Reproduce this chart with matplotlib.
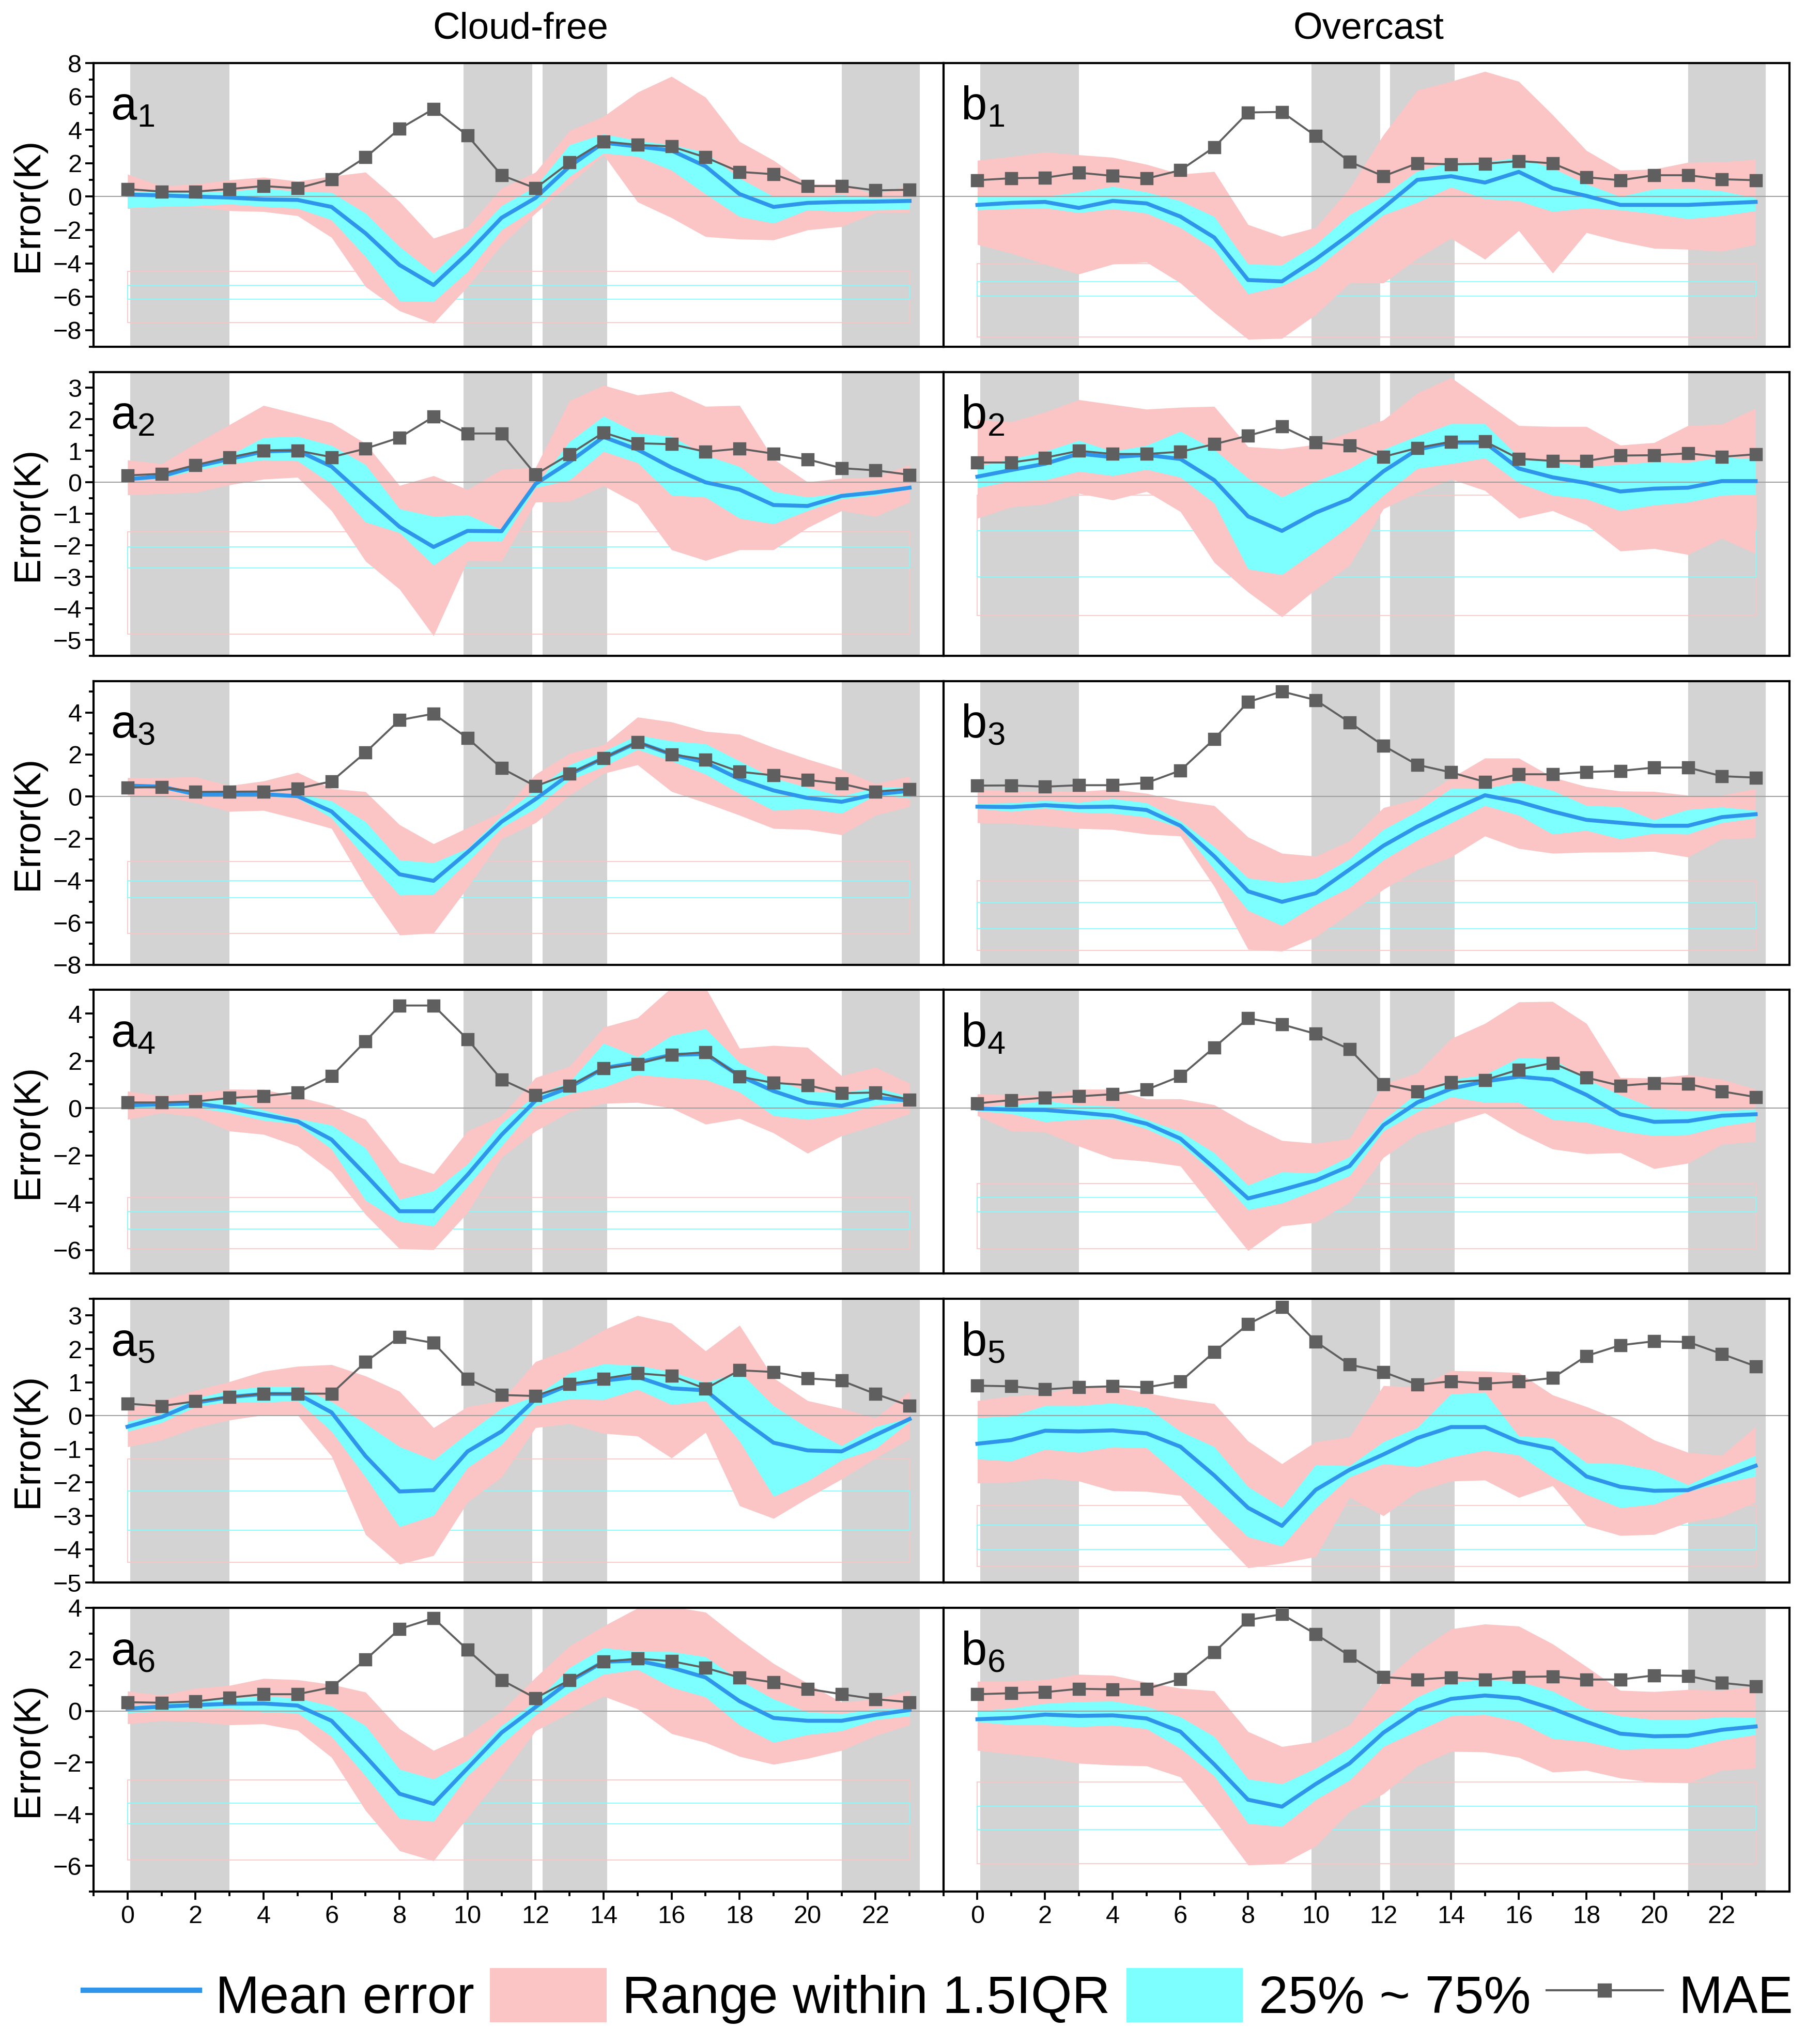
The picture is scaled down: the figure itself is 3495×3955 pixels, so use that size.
import numpy as np
import matplotlib.pyplot as plt
from matplotlib.lines import Line2D
from matplotlib.patches import Patch, Rectangle
from matplotlib.ticker import MultipleLocator, FixedLocator

plt.rcParams["font.family"] = ["Liberation Sans", "DejaVu Sans"]
plt.rcParams["mathtext.default"] = "regular"

HOURS = np.arange(24)
# grey background spans (hours)
NIGHT_SPANS = [(0.08, 3.0), (9.88, 11.9), (12.2, 14.1), (21.0, 23.3)]
X_LABELS = list(range(0, 23, 2))

# ---- cloud-free ----
a1_mae = [0.45, 0.3, 0.3, 0.45, 0.63, 0.5, 1.04, 2.35, 4.06, 5.25, 3.65, 1.28, 0.5, 2.05, 3.3, 3.1, 3.0, 2.35, 1.48, 1.34, 0.63, 0.63, 0.37, 0.41]
a1_mean = [0.12, 0.07, 0.0, -0.06, -0.17, -0.2, -0.62, -2.2, -4.1, -5.3, -3.4, -1.27, -0.08, 1.81, 3.23, 3.0, 2.76, 1.81, 0.15, -0.62, -0.38, -0.32, -0.3, -0.26]
a1_q75 = [0.3, 0.28, 0.25, 0.3, 0.5, 0.3, 0.25, -1.0, -3.0, -4.6, -2.7, -0.55, 0.6, 3.1, 3.75, 3.35, 3.1, 2.65, 1.1, 0.0, 0.0, 0.1, -0.1, -0.1]
a1_q25 = [-0.68, -0.6, -0.55, -0.45, -0.6, -0.7, -1.4, -3.6, -6.25, -6.3, -4.5, -2.0, -0.7, 1.2, 2.6, 2.4, 1.58, 0.15, -1.2, -1.6, -0.8, -0.9, -0.8, -0.77]
a1_lo = [-0.73, -0.6, -0.62, -0.85, -0.9, -1.15, -2.45, -5.4, -6.85, -7.6, -5.4, -2.9, -1.0, 0.75, 2.5, -0.32, -1.27, -2.4, -2.55, -2.6, -2.0, -1.8, -0.97, -0.97]
a1_hi = [1.34, 0.63, 0.75, 1.0, 1.16, 0.92, 1.22, 1.46, -0.3, -2.5, -1.8, 0.5, 1.46, 3.95, 4.8, 6.25, 7.2, 5.95, 3.3, 2.17, 0.75, 0.75, 0.1, 0.7]

a2_mae = [0.22, 0.27, 0.55, 0.79, 1.01, 1.01, 0.8, 1.07, 1.42, 2.08, 1.55, 1.55, 0.25, 0.89, 1.58, 1.24, 1.21, 0.97, 1.07, 0.91, 0.73, 0.45, 0.38, 0.24]
a2_mean = [0.1, 0.19, 0.5, 0.74, 0.98, 1.01, 0.5, -0.47, -1.41, -2.05, -1.54, -1.55, -0.05, 0.65, 1.44, 1.04, 0.47, 0.0, -0.23, -0.72, -0.75, -0.43, -0.32, -0.17]
a2_q75 = [0.16, 0.25, 0.56, 0.86, 1.42, 1.46, 1.17, 0.56, -0.84, -1.08, -1.03, -1.5, -0.1, 1.29, 2.1, 1.56, 1.46, 0.86, 0.5, -0.29, -0.47, -0.35, -0.23, -0.11]
a2_q25 = [0.04, 0.13, 0.38, 0.59, 0.71, 0.68, -0.05, -1.26, -1.6, -2.63, -1.87, -1.87, -0.17, 0.07, 0.98, 0.62, -0.41, -0.47, -1.14, -1.32, -0.9, -0.53, -0.41, -0.22]
a2_lo = [-0.4, -0.36, -0.32, -0.08, 0.1, 0.16, -0.9, -2.5, -3.39, -4.87, -2.48, -2.5, -0.63, -0.6, -0.11, -0.69, -2.14, -2.48, -2.14, -2.14, -1.44, -0.9, -1.08, -0.63]
a2_hi = [0.71, 0.59, 1.23, 1.83, 2.44, 2.17, 1.89, 1.23, -0.1, 0.21, -0.23, 0.41, 0.47, 2.59, 3.08, 2.77, 2.89, 2.41, 2.44, 0.74, 0.01, 0.13, 0.16, 0.56]

a3_mae = [0.43, 0.45, 0.22, 0.23, 0.24, 0.38, 0.72, 2.1, 3.64, 3.94, 2.78, 1.35, 0.49, 1.1, 1.83, 2.6, 2.01, 1.76, 1.18, 1.01, 0.79, 0.61, 0.24, 0.36]
a3_mean = [0.52, 0.47, 0.11, 0.11, 0.11, 0.02, -0.71, -2.2, -3.7, -4.01, -2.65, -1.2, -0.12, 1.06, 1.83, 2.58, 2.01, 1.62, 0.83, 0.29, -0.07, -0.25, 0.11, 0.27]
a3_q75 = [0.56, 0.52, 0.2, 0.2, 0.2, 0.15, -0.21, -1.2, -3.02, -3.15, -2.47, -0.93, 0.34, 1.51, 2.15, 2.92, 2.64, 2.51, 1.69, 0.88, 0.43, 0.02, 0.43, 0.47]
a3_q25 = [0.43, 0.38, 0.02, 0.02, 0.02, -0.07, -1.02, -2.93, -4.69, -4.65, -3.11, -1.48, -0.57, 0.79, 1.42, 2.24, 1.69, 1.06, 0.15, -0.66, -0.57, -0.8, 0.06, -0.07]
a3_lo = [0.06, 0.02, -0.3, -0.71, -0.66, -1.07, -1.52, -4.28, -6.59, -6.5, -4.33, -2.02, -1.25, 0.06, 1.1, 1.51, 0.24, -0.3, -0.89, -1.52, -1.57, -1.82, -0.89, -0.48]
a3_hi = [0.9, 0.9, 0.94, 0.52, 0.74, 1.15, 0.38, 0.23, -1.34, -2.25, -1.48, -0.75, 1.06, 2.06, 2.46, 3.78, 3.55, 3.1, 2.96, 2.33, 1.78, 1.29, 0.61, 0.97]

a4_mae = [0.24, 0.24, 0.28, 0.43, 0.51, 0.66, 1.35, 2.83, 4.34, 4.34, 2.91, 1.21, 0.55, 0.95, 1.69, 1.87, 2.25, 2.37, 1.33, 1.07, 0.97, 0.63, 0.66, 0.36]
a4_mean = [0.12, 0.16, 0.2, 0.0, -0.28, -0.56, -1.33, -2.82, -4.36, -4.36, -2.82, -1.13, 0.32, 0.88, 1.69, 1.93, 2.25, 2.29, 1.37, 0.72, 0.24, 0.1, 0.44, 0.32]
a4_q75 = [0.16, 0.28, 0.34, 0.4, -0.08, -0.45, -0.72, -1.69, -3.86, -3.5, -2.37, -0.64, 0.56, 1.1, 2.74, 2.17, 3.07, 3.36, 1.93, 1.21, 0.72, 0.64, 0.88, 0.48]
a4_q25 = [0.0, 0.06, 0.02, -0.2, -0.52, -0.68, -1.73, -3.9, -4.79, -4.99, -3.3, -1.61, 0.08, 0.6, 0.88, 1.41, 1.29, 1.21, 0.68, -0.32, -0.48, -0.28, 0.12, 0.28]
a4_lo = [-0.48, -0.2, -0.36, -0.97, -1.11, -1.61, -2.7, -4.5, -5.95, -5.99, -4.42, -2.09, -0.97, -0.16, 0.2, 0.24, 0.0, -0.68, -0.44, -1.05, -1.91, -1.17, -0.72, -0.24]
a4_hi = [0.72, 0.52, 0.66, 0.8, 0.79, 0.48, 0.12, -0.48, -2.29, -2.78, -0.97, -0.32, 1.29, 1.77, 3.42, 3.82, 5.1, 5.1, 2.53, 2.65, 2.57, 1.37, 1.73, 1.05]

a5_mae = [0.36, 0.29, 0.43, 0.56, 0.66, 0.66, 0.66, 1.61, 2.36, 2.18, 1.11, 0.62, 0.59, 0.95, 1.11, 1.27, 1.19, 0.81, 1.36, 1.31, 1.12, 1.05, 0.65, 0.3]
a5_mean = [-0.33, -0.04, 0.39, 0.56, 0.65, 0.65, 0.1, -1.21, -2.27, -2.23, -1.07, -0.47, 0.5, 0.93, 1.05, 1.16, 0.82, 0.76, -0.07, -0.81, -1.04, -1.07, -0.58, -0.1]
a5_q75 = [-0.18, 0.07, 0.52, 0.76, 0.88, 0.88, 0.42, -0.24, -0.93, -1.33, -0.53, 0.22, 0.59, 1.28, 1.55, 1.51, 1.31, 0.99, 1.31, 0.3, -0.36, -0.9, -0.33, -0.07]
a5_q25 = [-0.47, -0.21, 0.27, 0.42, 0.4, 0.45, -0.47, -1.84, -3.33, -2.99, -1.56, -0.87, 0.3, 0.5, 0.48, 0.79, 0.33, 0.45, -0.76, -2.42, -1.96, -1.33, -0.99, -0.18]
a5_lo = [-0.93, -0.73, -0.36, -0.13, 0.02, 0.02, -1.21, -3.56, -4.45, -4.19, -2.59, -1.84, -0.36, -0.24, -0.53, -0.61, -1.27, -0.5, -2.7, -3.08, -2.47, -1.9, -1.27, -0.7]
a5_hi = [0.22, 0.45, 0.76, 1.02, 1.33, 1.48, 1.53, 1.19, 0.73, -0.36, 0.27, 0.45, 1.62, 1.99, 2.57, 3.0, 2.77, 1.94, 2.71, 1.13, 0.45, 0.22, -0.07, 0.73]

a6_mae = [0.34, 0.32, 0.37, 0.52, 0.65, 0.65, 0.92, 1.99, 3.18, 3.6, 2.37, 1.2, 0.5, 1.2, 1.91, 2.03, 1.93, 1.67, 1.3, 1.11, 0.86, 0.65, 0.46, 0.34]
a6_mean = [0.09, 0.17, 0.23, 0.28, 0.29, 0.21, -0.38, -1.76, -3.21, -3.6, -2.22, -0.84, 0.15, 1.15, 1.91, 1.95, 1.68, 1.3, 0.38, -0.27, -0.38, -0.38, -0.15, 0.04]
a6_q75 = [0.19, 0.27, 0.4, 0.5, 0.57, 0.5, 0.19, -0.57, -2.26, -2.64, -1.91, -0.57, 0.38, 1.68, 2.45, 2.31, 2.3, 2.1, 1.19, 0.46, -0.04, -0.11, 0.09, 0.09]
a6_q25 = [-0.08, 0.0, 0.08, 0.11, -0.04, -0.08, -0.99, -2.52, -4.17, -4.28, -2.52, -1.3, -0.15, 0.73, 1.42, 1.61, 0.92, 0.54, -0.54, -1.22, -0.92, -0.77, -0.34, -0.19]
a6_lo = [-0.5, -0.38, -0.42, -0.54, -0.5, -0.75, -1.8, -3.86, -5.42, -5.81, -4.13, -2.52, -0.77, -0.08, 0.57, 0.08, -0.88, -1.22, -1.76, -2.07, -1.84, -1.53, -0.96, -0.54]
a6_hi = [0.77, 0.61, 0.88, 0.99, 1.26, 1.21, 1.03, 0.73, -0.69, -1.53, -0.92, 0.0, 1.3, 2.52, 3.29, 3.99, 4.05, 3.83, 2.79, 1.84, 1.07, 0.34, 0.46, 0.8]

# ---- overcast ----
b1_mae = [0.98, 1.1, 1.13, 1.43, 1.24, 1.08, 1.58, 2.96, 5.04, 5.07, 3.63, 2.09, 1.22, 1.99, 1.93, 1.97, 2.13, 1.99, 1.16, 0.98, 1.28, 1.28, 1.04, 0.98]
b1_mean = [-0.5, -0.38, -0.32, -0.68, -0.26, -0.41, -1.2, -2.45, -5.0, -5.08, -3.75, -2.27, -0.67, 1.0, 1.22, 0.84, 1.48, 0.5, 0.04, -0.5, -0.5, -0.5, -0.41, -0.32]
b1_q75 = [0.0, 0.04, 0.0, 0.27, 0.6, 0.27, -0.26, -1.2, -4.05, -4.1, -2.87, -1.09, 0.05, 1.52, 2.05, 2.05, 2.35, 1.7, 0.75, 0.0, 0.45, 0.5, 0.33, -0.08]
b1_q25 = [-0.8, -0.73, -0.68, -0.97, -0.73, -1.0, -1.86, -3.16, -5.83, -5.36, -4.35, -2.69, -1.1, -0.35, 0.57, -0.14, -0.26, -0.9, -0.68, -0.8, -1.03, -1.33, -1.15, -0.85]
b1_lo = [-2.87, -3.4, -4.05, -4.64, -4.05, -3.93, -5.18, -6.95, -8.55, -8.5, -7.07, -5.18, -5.18, -3.7, -2.5, -3.76, -2.04, -4.59, -2.16, -2.69, -3.1, -3.16, -3.28, -2.87]
b1_hi = [2.17, 2.4, 2.67, 2.5, 2.35, 1.93, 1.34, 1.5, -1.68, -2.39, -1.86, 0.5, 3.7, 6.37, 6.9, 7.5, 6.9, 4.9, 2.76, 1.58, 1.64, 2.05, 2.07, 2.23]

b2_mae = [0.63, 0.63, 0.78, 1.0, 0.9, 0.9, 0.97, 1.21, 1.48, 1.77, 1.26, 1.17, 0.81, 1.09, 1.29, 1.3, 0.75, 0.68, 0.68, 0.85, 0.86, 0.92, 0.81, 0.89]
b2_mean = [0.18, 0.39, 0.59, 0.91, 0.8, 0.87, 0.74, 0.07, -1.08, -1.54, -0.96, -0.53, 0.35, 1.04, 1.26, 1.26, 0.44, 0.16, -0.02, -0.29, -0.2, -0.17, 0.04, 0.04]
b2_q75 = [0.5, 0.74, 0.98, 1.33, 0.98, 1.17, 1.62, 1.04, 0.13, -0.47, 0.04, 0.44, 1.04, 1.47, 1.86, 1.86, 0.8, 0.65, 0.5, 0.56, 0.65, 0.63, 0.8, 0.74]
b2_q25 = [-0.17, 0.04, 0.07, 0.35, 0.21, 0.41, 0.16, -0.66, -2.75, -2.93, -2.17, -1.38, -0.41, 0.44, 0.59, 0.77, -0.02, -0.41, -0.53, -0.9, -0.72, -0.63, -0.41, -0.38]
b2_lo = [-1.14, -0.78, -0.69, -0.35, -0.56, -0.29, -0.93, -2.54, -3.48, -4.27, -3.39, -2.63, -0.84, -0.32, 0.1, -0.26, -1.14, -0.9, -1.35, -2.18, -2.1, -2.29, -1.78, -2.26]
b2_hi = [1.98, 1.92, 2.23, 2.62, 2.47, 2.32, 2.38, 2.41, 1.13, 1.06, 1.2, 1.59, 1.98, 2.83, 3.32, 2.56, 1.8, 1.77, 1.77, 1.18, 1.26, 1.8, 1.84, 2.35]

b3_mae = [0.52, 0.53, 0.47, 0.54, 0.54, 0.65, 1.24, 2.74, 4.5, 5.0, 4.59, 3.53, 2.42, 1.51, 1.15, 0.7, 1.06, 1.06, 1.17, 1.22, 1.38, 1.38, 0.97, 0.9]
b3_mean = [-0.48, -0.5, -0.41, -0.5, -0.48, -0.64, -1.39, -2.84, -4.51, -5.01, -4.6, -3.47, -2.34, -1.43, -0.66, 0.06, -0.25, -0.71, -1.11, -1.25, -1.39, -1.39, -0.98, -0.84]
b3_q75 = [-0.34, -0.3, -0.19, -0.28, -0.1, -0.3, -1.16, -2.38, -3.88, -4.1, -3.88, -2.97, -1.57, -0.71, 0.38, 0.38, 0.7, 0.29, -0.43, -0.48, -1.11, -0.62, -0.5, -0.66]
b3_q25 = [-0.57, -0.71, -0.55, -0.75, -0.8, -0.98, -1.48, -3.47, -5.42, -6.14, -5.14, -4.33, -3.02, -2.07, -1.25, -0.43, -0.89, -1.79, -1.61, -2.02, -1.75, -1.79, -1.25, -1.02]
b3_lo = [-1.25, -1.28, -1.39, -1.52, -1.57, -1.79, -1.88, -4.28, -7.27, -7.36, -6.68, -5.55, -4.42, -3.47, -2.88, -1.88, -2.47, -2.7, -2.65, -2.64, -2.61, -2.88, -2.02, -1.97]
b3_hi = [0.34, 0.26, 0.26, 0.24, 0.35, 0.15, -0.21, -0.43, -1.93, -2.7, -2.84, -2.11, -0.53, -0.12, 0.88, 1.83, 1.83, 0.92, 0.47, 0.26, 0.24, 0.06, 0.06, 0.38]

b4_mae = [0.2, 0.34, 0.44, 0.5, 0.59, 0.78, 1.35, 2.57, 3.8, 3.54, 3.14, 2.49, 1.01, 0.7, 1.09, 1.19, 1.63, 1.91, 1.29, 0.95, 1.05, 1.02, 0.71, 0.47]
b4_mean = [-0.02, -0.06, -0.08, -0.19, -0.32, -0.66, -1.29, -2.53, -3.82, -3.46, -3.06, -2.45, -0.72, 0.24, 0.82, 1.13, 1.33, 1.21, 0.56, -0.26, -0.58, -0.55, -0.32, -0.26]
b4_q75 = [0.06, 0.12, 0.32, 0.12, 0.08, -0.48, -1.0, -1.89, -3.26, -2.7, -2.74, -2.05, -0.5, 0.64, 1.21, 1.41, 2.13, 2.09, 1.21, 0.56, 0.0, -0.12, -0.12, -0.04]
b4_q25 = [-0.12, -0.24, -0.58, -0.48, -0.44, -0.88, -1.53, -2.74, -4.3, -4.02, -3.46, -2.86, -0.97, -0.16, 0.48, 0.24, 0.24, -0.48, -0.6, -0.97, -1.17, -1.13, -0.76, -0.56]
b4_lo = [-0.32, -0.97, -1.01, -1.61, -2.13, -2.25, -2.45, -4.26, -6.03, -4.99, -4.83, -3.98, -2.09, -1.09, -0.64, -0.2, -1.05, -1.73, -1.93, -1.89, -2.56, -2.33, -1.53, -1.41]
b4_hi = [0.6, 0.56, 0.55, 0.8, 0.8, 0.39, 0.39, 0.14, -0.68, -1.37, -1.49, -1.29, 1.01, 1.49, 2.94, 3.58, 4.49, 4.51, 3.58, 1.29, 1.27, 1.41, 1.22, 0.8]

b5_mae = [0.9, 0.88, 0.79, 0.85, 0.88, 0.85, 1.02, 1.91, 2.74, 3.26, 2.22, 1.53, 1.31, 0.93, 1.03, 0.96, 1.02, 1.13, 1.79, 2.11, 2.23, 2.21, 1.85, 1.48]
b5_mean = [-0.84, -0.73, -0.45, -0.47, -0.44, -0.53, -0.93, -1.79, -2.76, -3.3, -2.22, -1.62, -1.16, -0.67, -0.34, -0.34, -0.78, -0.99, -1.82, -2.13, -2.25, -2.23, -1.87, -1.5]
b5_q75 = [-0.06, -0.01, 0.3, 0.3, 0.38, 0.25, -0.47, -0.93, -2.13, -2.76, -1.47, -1.5, -0.78, -0.36, 0.65, 0.7, -0.61, -0.67, -1.41, -1.44, -1.64, -2.07, -1.61, -1.19]
b5_q25 = [-1.3, -1.36, -1.01, -1.1, -0.94, -0.96, -1.84, -2.7, -3.63, -3.91, -2.76, -1.84, -1.44, -1.53, -1.24, -1.04, -1.18, -1.84, -2.36, -2.76, -2.65, -2.27, -2.02, -1.82]
b5_lo = [-2.02, -1.99, -1.87, -1.96, -2.25, -2.27, -2.39, -3.51, -4.56, -4.42, -4.22, -2.45, -3.0, -2.27, -1.96, -1.93, -2.45, -2.1, -3.3, -3.59, -3.56, -3.19, -3.02, -2.59]
b5_hi = [0.45, 0.59, 0.65, 0.9, 0.88, 0.68, 0.5, 0.36, -0.76, -1.44, -0.78, -0.64, 0.9, 0.85, 1.35, 1.33, 1.29, 0.62, 0.27, -0.13, -0.73, -1.1, -1.19, -0.33]

b6_mae = [0.65, 0.69, 0.73, 0.86, 0.84, 0.86, 1.24, 2.28, 3.53, 3.75, 2.98, 2.14, 1.32, 1.22, 1.3, 1.22, 1.32, 1.34, 1.22, 1.22, 1.38, 1.36, 1.09, 0.96]
b6_mean = [-0.32, -0.27, -0.14, -0.19, -0.17, -0.29, -0.8, -2.07, -3.44, -3.71, -2.83, -2.03, -0.84, 0.04, 0.47, 0.6, 0.5, 0.09, -0.42, -0.88, -0.98, -0.96, -0.73, -0.6]
b6_q75 = [0.0, 0.11, 0.29, 0.36, 0.38, 0.17, -0.23, -0.99, -2.64, -2.83, -2.22, -1.45, -0.38, 0.54, 1.11, 1.22, 1.15, 0.77, 0.11, -0.19, -0.34, -0.34, -0.23, -0.24]
b6_q25 = [-0.42, -0.54, -0.54, -0.61, -0.55, -0.69, -1.45, -2.52, -4.36, -4.48, -3.44, -2.68, -1.38, -0.77, -0.19, -0.14, -0.42, -1.07, -1.19, -1.49, -1.45, -1.45, -1.13, -0.92]
b6_lo = [-1.53, -1.67, -1.8, -2.03, -2.1, -2.13, -2.56, -4.21, -5.97, -5.93, -5.24, -3.9, -3.21, -2.14, -1.57, -1.59, -1.8, -2.37, -2.3, -2.6, -2.77, -2.79, -2.3, -2.22]
b6_hi = [1.15, 1.16, 1.22, 1.42, 1.38, 1.11, 0.88, 0.78, -0.8, -1.38, -1.19, -0.54, 1.15, 2.3, 3.18, 3.37, 3.29, 2.6, 1.72, 0.8, 0.75, 0.83, 0.8, 0.96]

# faint leftover box outlines in each panel: (pink top, pink bottom, cyan top, cyan bottom)
a_boxes = [(-4.47, -7.55, -5.3, -6.15), (-1.57, -4.81, -2.05, -2.72), (-3.08, -6.52, -4.01, -4.81),
           (-3.78, -5.94, -4.36, -5.11), (-1.3, -4.39, -2.26, -3.43), (-2.68, -5.78, -3.58, -4.38)]
b_boxes = [(-4.0, -8.4, -5.1, -5.95), (-0.4, -4.22, -1.54, -2.99), (-4.01, -7.32, -5.03, -6.3),
           (-3.18, -5.95, -3.78, -4.38), (-2.69, -4.51, -3.28, -4.01), (-2.75, -5.91, -3.69, -4.59)]

YLIMS = [(-9, 8), (-5.5, 3.5), (-8, 5.5), (-7, 5), (-5, 3.5), (-7, 4)]
YSTEPS = [2, 1, 2, 2, 1, 2]

a_panels = [
    (a1_mean, a1_q25, a1_q75, a1_lo, a1_hi, a1_mae),
    (a2_mean, a2_q25, a2_q75, a2_lo, a2_hi, a2_mae),
    (a3_mean, a3_q25, a3_q75, a3_lo, a3_hi, a3_mae),
    (a4_mean, a4_q25, a4_q75, a4_lo, a4_hi, a4_mae),
    (a5_mean, a5_q25, a5_q75, a5_lo, a5_hi, a5_mae),
    (a6_mean, a6_q25, a6_q75, a6_lo, a6_hi, a6_mae),
]
b_panels = [
    (b1_mean, b1_q25, b1_q75, b1_lo, b1_hi, b1_mae),
    (b2_mean, b2_q25, b2_q75, b2_lo, b2_hi, b2_mae),
    (b3_mean, b3_q25, b3_q75, b3_lo, b3_hi, b3_mae),
    (b4_mean, b4_q25, b4_q75, b4_lo, b4_hi, b4_mae),
    (b5_mean, b5_q25, b5_q75, b5_lo, b5_hi, b5_mae),
    (b6_mean, b6_q25, b6_q75, b6_lo, b6_hi, b6_mae),
]

C_MEAN = "#2E95EA"
C_IQR = "#7DFFFF"
C_RANGE = "#FCC5C5"
C_MAE = "#5F5F5F"
C_BAND = "#D3D3D3"

W, H, DPI = 3495, 3955, 250
fig = plt.figure(figsize=(W / DPI, H / DPI), dpi=DPI)

LEFT_A, MID, RIGHT_B = 181, 1826, 3463
PANEL_H = 549
ROW_TOPS = [122 + 597.8 * i for i in range(6)]


def draw_panel(ax, data, box, row, label):
    mean, q25, q75, lo, hi, mae = data
    for x0, x1 in NIGHT_SPANS:
        ax.axvspan(x0, x1, color=C_BAND, lw=0, zorder=0)
    ax.add_patch(Rectangle((0, box[1]), 23, box[0] - box[1], fill=False,
                           edgecolor=C_RANGE, lw=0.5, zorder=0.5))
    ax.add_patch(Rectangle((0, box[3]), 23, box[2] - box[3], fill=False,
                           edgecolor=C_IQR, lw=0.5, zorder=0.5))
    ax.fill_between(HOURS, lo, hi, color=C_RANGE, lw=0, zorder=1)
    ax.fill_between(HOURS, q25, q75, color=C_IQR, lw=0, zorder=1.5)
    ax.axhline(0, color="#A0A0A0", lw=0.6, zorder=2)
    ax.plot(HOURS, mean, color=C_MEAN, lw=2.2, zorder=3)
    ax.plot(HOURS, mae, color=C_MAE, lw=1.1, marker="s", ms=6.5, zorder=4)

    ax.set_xlim(-1, 24)
    ax.set_ylim(*YLIMS[row])
    step = YSTEPS[row]
    ax.yaxis.set_major_locator(MultipleLocator(step))
    ax.yaxis.set_minor_locator(MultipleLocator(step / 2))
    ax.xaxis.set_major_locator(FixedLocator(X_LABELS))
    ax.xaxis.set_minor_locator(FixedLocator(list(range(-1, 24, 2))))
    ax.tick_params(which="both", direction="out", width=1.1, labelsize=14)
    ax.tick_params(which="major", length=4.5)
    ax.tick_params(which="minor", length=2.5)
    ax.tick_params(axis="y", pad=2)
    ax.tick_params(axis="x", pad=3)
    if row < 5:
        ax.tick_params(axis="x", which="both", bottom=False, labelbottom=False)
    for sp in ax.spines.values():
        sp.set_linewidth(1.2)
    ax.text(0.02, 0.80, label, transform=ax.transAxes, fontsize=26, zorder=5)


for row in range(6):
    top = ROW_TOPS[row]
    y0 = 1 - (top + PANEL_H) / H
    ax_a = fig.add_axes([LEFT_A / W, y0, (MID - LEFT_A) / W, PANEL_H / H])
    ax_b = fig.add_axes([MID / W, y0, (RIGHT_B - MID) / W, PANEL_H / H])
    draw_panel(ax_a, a_panels[row], a_boxes[row], row, "a$_{%d}$" % (row + 1))
    draw_panel(ax_b, b_panels[row], b_boxes[row], row, "b$_{%d}$" % (row + 1))
    ax_b.tick_params(axis="y", which="both", left=False, labelleft=False)
    fig.text(55 / W, 1 - (top + PANEL_H / 2) / H, "Error(K)", rotation=90,
             ha="center", va="center", fontsize=21)

fig.text(1007 / W, 1 - 56 / H, "Cloud-free", ha="center", va="center", fontsize=21)
fig.text(2648 / W, 1 - 56 / H, "Overcast", ha="center", va="center", fontsize=21)

handles = [
    Line2D([], [], color=C_MEAN, lw=3),
    Patch(facecolor=C_RANGE, edgecolor="none"),
    Patch(facecolor=C_IQR, edgecolor="none"),
    Line2D([], [], color=C_MAE, lw=1.2, marker="s", ms=7),
]
labels = ["Mean error", "Range within 1.5IQR", "25% ~ 75%", "MAE"]
fig.legend(handles, labels, loc="center", bbox_to_anchor=(0.5195, 1 - 3862 / H), ncol=4,
           frameon=False, fontsize=29.5, handlelength=2.2, handleheight=1.2,
           handletextpad=0.3, columnspacing=0.3, numpoints=1)

fig.savefig("out.png", dpi=DPI)
